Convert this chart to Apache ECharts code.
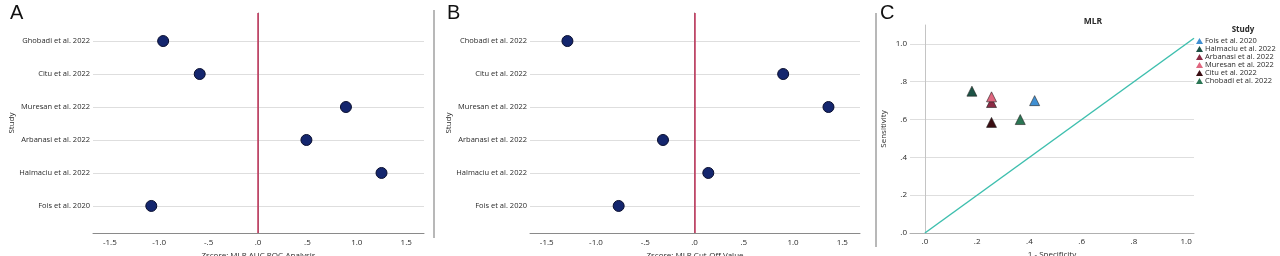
<!DOCTYPE html>
<html><head><meta charset="utf-8">
<script src="https://cdn.jsdelivr.net/npm/echarts@6/dist/echarts.min.js"></script>
<style>html,body{margin:0;padding:0;background:#fff}#c{width:1280px;height:256px}</style>
</head><body><div id="c"></div>
<script>
// Data
const studiesAB_A = ['Ghobadi et al. 2022','Citu et al. 2022','Muresan et al. 2022','Arbanasi et al. 2022','Halmaciu et al. 2022','Fois et al. 2020'];
const studiesAB_B = ['Chobadi et al. 2022','Citu et al. 2022','Muresan et al. 2022','Arbanasi et al. 2022','Halmaciu et al. 2022','Fois et al. 2020'];
const zAUC = [-0.96, -0.59, 0.89, 0.49, 1.25, -1.08];
const zCutOff = [-1.29, 0.90, 1.36, -0.32, 0.14, -0.77];
const zTicks = [-1.5, -1.0, -0.5, 0, 0.5, 1.0, 1.5];
const rowPos = [6, 5, 4, 3, 2, 1];
const rocStudies = ['Fois et al. 2020','Halmaciu et al. 2022','Arbanasi et al. 2022','Muresan et al. 2022','Citu et al. 2022','Chobadi et al. 2022'];
const rocFpr = [0.42, 0.18, 0.255, 0.255, 0.255, 0.365];
const rocSens = [0.70, 0.75, 0.69, 0.72, 0.585, 0.60];
const rocColors = ['#3f8fd2','#1d5346','#8a2a44','#e0667f','#3a0d12','#2b7654'];
const rocTicks = [0, 0.2, 0.4, 0.6, 0.8, 1.0];
const refLine = [[0, 0], [1.03, 1.03]];

const fmt = v => { let s = Number(v).toFixed(1); return s.replace(/^(-?)0\./, '$1.'); };
const FONT = 'Open Sans';
const txt = '#2a2a2a';
const axisLineC = '#8a8a8a';
const gridC = '#dedede';

function zAxis(gi, name) {
  return {
    type: 'value', gridIndex: gi, min: -1.67, max: 1.68,
    name: name, nameLocation: 'middle', nameGap: 19,
    nameTextStyle: { fontSize: 8, color: txt, fontFamily: FONT },
    axisLine: { show: true, lineStyle: { color: axisLineC } },
    axisTick: { show: false, customValues: zTicks },
    axisLabel: { customValues: zTicks, formatter: fmt, fontSize: 8, color: txt, fontFamily: FONT, margin: 6 },
    splitLine: { show: false }
  };
}
function studyAxis(gi, names) {
  return {
    type: 'value', gridIndex: gi, min: 0.18, max: 6.85,
    name: 'Study', nameLocation: 'middle', nameGap: 74, nameRotate: 90,
    nameTextStyle: { fontSize: 8, color: txt, fontFamily: FONT },
    axisLine: { show: true, lineStyle: { color: axisLineC } },
    axisTick: { show: false, customValues: rowPos },
    axisLabel: { customValues: rowPos, formatter: v => names[6 - Math.round(v)], fontSize: 7.5, color: txt, fontFamily: FONT, margin: 3 },
    splitLine: { show: true, lineStyle: { color: gridC } }
  };
}

const chart = echarts.init(document.getElementById('c'), null, { renderer: 'canvas' });
const series = [
  {
    type: 'scatter', xAxisIndex: 0, yAxisIndex: 0,
    data: zAUC.map((v, i) => [v, rowPos[i]]),
    symbolSize: 11,
    itemStyle: { color: '#14266e', borderColor: '#0a0f30', borderWidth: 1, opacity: 1 },
    markLine: { silent: true, symbol: 'none', label: { show: false },
      lineStyle: { color: '#c4365c', width: 1.5, type: 'solid' }, data: [{ xAxis: 0 }] },
    z: 3
  },
  {
    type: 'scatter', xAxisIndex: 1, yAxisIndex: 1,
    data: zCutOff.map((v, i) => [v, rowPos[i]]),
    symbolSize: 11,
    itemStyle: { color: '#14266e', borderColor: '#0a0f30', borderWidth: 1, opacity: 1 },
    markLine: { silent: true, symbol: 'none', label: { show: false },
      lineStyle: { color: '#c4365c', width: 1.5, type: 'solid' }, data: [{ xAxis: 0 }] },
    z: 3
  },
  {
    type: 'line', xAxisIndex: 2, yAxisIndex: 2, data: refLine,
    showSymbol: false, lineStyle: { color: '#3ebfae', width: 1.5 }, silent: true, z: 2
  }
];
rocStudies.forEach((s, i) => {
  series.push({
    type: 'scatter', name: s, xAxisIndex: 2, yAxisIndex: 2,
    data: [[rocFpr[i], rocSens[i]]],
    symbol: 'triangle', symbolSize: 10,
    color: rocColors[i],
    itemStyle: { color: rocColors[i], borderColor: '#222', borderWidth: 0.6, opacity: 1 },
    z: 4
  });
});

const gridBase = { outerBoundsMode: 'none', containLabel: false };
chart.setOption({
  animation: false,
  backgroundColor: '#fff',
  textStyle: { fontFamily: FONT },
  grid: [
    Object.assign({ left: 93, right: 1280 - 424, top: 13, bottom: 23 }, gridBase),
    Object.assign({ left: 530, right: 1280 - 860, top: 13, bottom: 23 }, gridBase),
    Object.assign({ left: 910, right: 1280 - 1194, top: 25, bottom: 23 }, gridBase)
  ],
  xAxis: [
    zAxis(0, 'Zscore: MLR AUC ROC-Analysis'),
    zAxis(1, 'Zscore: MLR Cut-Off Value'),
    {
      type: 'value', gridIndex: 2, min: -0.057, max: 1.03,
      name: '1 - Specificity', nameLocation: 'middle', nameGap: 18,
      nameTextStyle: { fontSize: 8, color: txt, fontFamily: FONT },
      axisLine: { show: true, lineStyle: { color: '#b0b0b0' } },
      axisTick: { show: false, customValues: rocTicks },
      axisLabel: { customValues: rocTicks, formatter: fmt, fontSize: 8, color: txt, fontFamily: FONT, margin: 5 },
      splitLine: { show: false }
    }
  ],
  yAxis: [
    studyAxis(0, studiesAB_A),
    studyAxis(1, studiesAB_B),
    {
      type: 'value', gridIndex: 2, min: 0, max: 1.1,
      name: 'Sensitivity', nameLocation: 'middle', nameGap: 22, nameRotate: 90,
      nameTextStyle: { fontSize: 8, color: txt, fontFamily: FONT },
      axisLine: { show: true, lineStyle: { color: '#c4c4c4' } },
      axisTick: { show: false, customValues: rocTicks },
      axisLabel: { customValues: rocTicks, formatter: fmt, fontSize: 8, color: txt, fontFamily: FONT, margin: 3 },
      splitLine: { show: true, lineStyle: { color: gridC } }
    }
  ],
  legend: {
    data: rocStudies, orient: 'vertical', left: 1196, top: 37,
    itemWidth: 7, itemHeight: 6, itemGap: 0, icon: 'triangle',
    itemStyle: { borderWidth: 0 },
    textStyle: { fontSize: 7.5, color: txt, fontFamily: FONT, padding: [0, 0, 0, -3] },
    padding: 0
  },
  graphic: [
    { type: 'text', left: 10, top: 3, style: { text: 'A', fontSize: 20, fill: '#111', fontFamily: 'Liberation Sans' } },
    { type: 'text', left: 447, top: 3, style: { text: 'B', fontSize: 20, fill: '#111', fontFamily: 'Liberation Sans' } },
    { type: 'text', left: 880, top: 3, style: { text: 'C', fontSize: 20, fill: '#111', fontFamily: 'Liberation Sans' } },
    { type: 'line', shape: { x1: 434, y1: 10, x2: 434, y2: 238 }, style: { stroke: '#a0a0a0', lineWidth: 1.5 } },
    { type: 'line', shape: { x1: 876, y1: 13, x2: 876, y2: 247 }, style: { stroke: '#a0a0a0', lineWidth: 1.5 } },
    { type: 'text', x: 1093, y: 22, style: { text: 'MLR', fontSize: 8.5, fontWeight: 'bold', fill: txt, fontFamily: FONT, align: 'center', verticalAlign: 'middle' } },
    { type: 'text', x: 1243, y: 30, style: { text: 'Study', fontSize: 8, fontWeight: 'bold', fill: txt, fontFamily: FONT, align: 'center', verticalAlign: 'middle' } }
  ],
  series: series
});
</script></body></html>
